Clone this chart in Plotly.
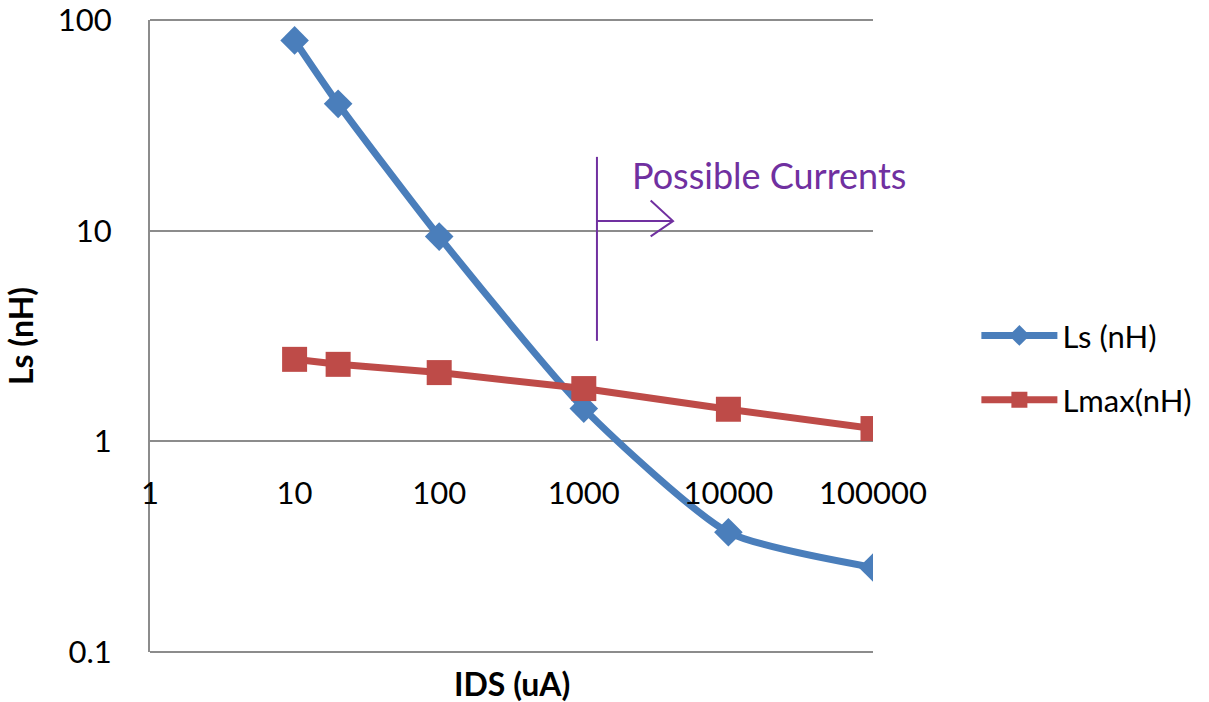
import plotly.graph_objects as go

# Drain current (uA) and inductance values
ids_ua = [10, 20, 100, 1000, 10000, 100000]
ls_nh = [80, 40, 9.37, 1.43, 0.37, 0.252]
lmax_nh = [2.45, 2.32, 2.12, 1.78, 1.42, 1.15]

x_ticks = [1, 10, 100, 1000, 10000, 100000]
y_ticks = [0.1, 1, 10, 100]

# "Possible Currents" marker: vertical bar plus arrow (data coordinates)
bar_x = 1233
bar_y = [3.0, 22.4]
arrow_y = 11.1
arrow_x = [1233, 4140]
head_x = [2900, 4140, 2900]
head_y = [13.9, 11.1, 9.4]

BLUE = "#4A7EBB"
RED = "#BE4B48"
PURPLE = "#7030A0"
GRID = "#8C8C8C"
FONT = "Lato"

fig = go.Figure()

fig.add_trace(go.Scatter(
    x=ids_ua, y=ls_nh, name="Ls (nH)", mode="lines+markers",
    line=dict(color=BLUE, width=7, shape="spline", smoothing=0.6),
    marker=dict(symbol="diamond", size=22, color=BLUE),
    legendgroup="a",
))
fig.add_trace(go.Scatter(
    x=ids_ua, y=lmax_nh, name="Lmax(nH)", mode="lines+markers",
    line=dict(color=RED, width=7),
    marker=dict(symbol="square", size=25, color=RED),
    legendgroup="b",
))

# Purple annotation strokes
fig.add_trace(go.Scatter(
    x=[bar_x, bar_x], y=bar_y, mode="lines", showlegend=False,
    line=dict(color=PURPLE, width=2), hoverinfo="skip",
))
fig.add_trace(go.Scatter(
    x=arrow_x, y=[arrow_y, arrow_y], mode="lines", showlegend=False,
    line=dict(color=PURPLE, width=2), hoverinfo="skip",
))
fig.add_trace(go.Scatter(
    x=head_x, y=head_y, mode="lines", showlegend=False,
    line=dict(color=PURPLE, width=2), hoverinfo="skip",
))

# Gridlines at the top and bottom edges of the plotting area
for yd in (0, 1):
    fig.add_shape(
        type="line", xref="x domain", yref="y domain",
        x0=0, x1=1, y0=yd, y1=yd,
        line=dict(color=GRID, width=2), layer="below",
    )

fig.add_annotation(
    x=3.319, y=1.264, xref="x", yref="y", text="Possible Currents",
    showarrow=False, xanchor="left", yanchor="middle",
    font=dict(family=FONT, size=36, color=PURPLE),
)
fig.add_annotation(
    x=0.5, y=-0.05, xref="paper", yref="paper", text="<b>IDS (uA)</b>",
    showarrow=False, xanchor="center", yanchor="middle",
    font=dict(family=FONT, size=32, color="black"),
)

fig.update_layout(
    width=1209, height=702,
    margin=dict(l=150, r=336, t=20, b=50, autoexpand=False),
    paper_bgcolor="white", plot_bgcolor="white",
    font=dict(family=FONT, size=31, color="black"),
    showlegend=True,
    legend=dict(
        x=1.143, y=0.543, xanchor="left", yanchor="top",
        font=dict(family=FONT, size=31),
        traceorder="grouped", tracegroupgap=21, itemwidth=76,
        bgcolor="rgba(0,0,0,0)",
    ),
    xaxis=dict(
        type="log", range=[0, 5], anchor="free", position=1/3,
        tickvals=x_ticks, ticktext=[str(v) for v in x_ticks],
        showgrid=False, showline=False, zeroline=False, automargin=False,
        ticks="", ticklabelstandoff=31, ticklabeloverflow="allow",
        tickfont=dict(family=FONT, size=31),
    ),
    yaxis=dict(
        type="log", range=[-1, 2], domain=[0, 1], automargin=False,
        tickvals=y_ticks, ticktext=["0.1", "1", "10", "100"],
        showgrid=True, gridcolor=GRID, gridwidth=2,
        showline=True, linecolor=GRID, linewidth=2,
        ticks="", ticklabelstandoff=30, ticklabeloverflow="allow",
        tickfont=dict(family=FONT, size=31),
        title=dict(text="<b>Ls (nH)</b>", standoff=15, font=dict(family=FONT, size=32)),
    ),
)

fig.write_html("out.html")
